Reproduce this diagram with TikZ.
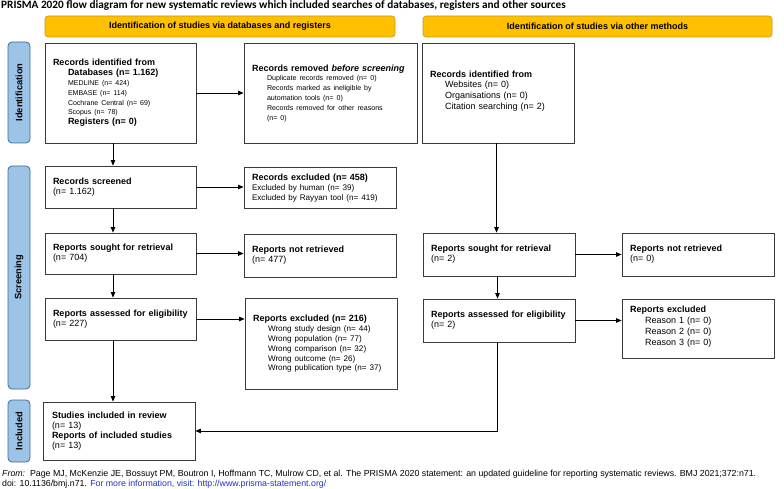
\documentclass[tikz,border=0pt]{standalone}
\usepackage{fontspec}
\setmainfont{Liberation Sans}
\newfontfamily\titlefont{Carlito}
\usepackage{xcolor}
\usetikzlibrary{positioning, arrows.meta, calc}
\definecolor{prgold}{HTML}{FFC000}
\definecolor{prgoldline}{HTML}{C89A10}
\definecolor{prblue}{HTML}{9DC3E6}
\definecolor{prblueline}{HTML}{3F6C94}
\definecolor{prline}{HTML}{3A3A3A}
\definecolor{prlink}{HTML}{2233C0}
\newcommand{\sz}[2]{{\fontsize{#1}{9.8}\selectfont #2}}
\newcommand{\ind}{\hspace*{15pt}}

\begin{document}
\begin{tikzpicture}[x=1pt, y=-1pt,
    box/.style={draw=prline, line width=0.8pt, fill=white, align=left,
                inner xsep=8pt, inner ysep=2pt, font=\fontsize{9}{9.8}\selectfont},
    phase/.style={draw=prblueline, fill=prblue, line width=0.8pt, rounded corners=4pt,
                  rotate=90, minimum height=22pt, inner sep=0pt,
                  font=\fontsize{9.3}{11}\selectfont\bfseries},
    header/.style={draw=prgoldline, fill=prgold, line width=0.6pt, rounded corners=3pt,
                   minimum height=21pt, inner sep=0pt, font=\fontsize{9}{11}\selectfont\bfseries},
    arr/.style={draw=black, line width=0.7pt, -{Triangle[length=5.5pt, width=4.5pt]}}]
  \useasboundingbox[fill=white] (0,0) rectangle (784,489);

  % title
  \node[anchor=base west, inner sep=0pt, font=\titlefont\fontsize{11.25}{12}\selectfont\bfseries] (title) at (1,8.5)
    {PRISMA 2020 flow diagram for new systematic reviews which included searches of databases, registers and other sources};

  % headers
  \node[header, minimum width=350pt] (hdb) at (220,26.5) {Identification of studies via databases and registers};
  \node[header, minimum width=349pt] (hot) at (597.5,26.5) {Identification of studies via other methods};

  % phases
  \node[phase, minimum width=101pt] (pid) at (19,92.5) {Identification};
  \node[phase, minimum width=223pt] (psc) at (19,277.5) {Screening};
  \node[phase, minimum width=62pt] (pin) at (19,431) {Included};

  % databases and registers
  \node[box, text width=135pt, minimum height=100pt] (ident) at (120.5,93)
    {\textbf{Records identified from}\\
     \ind\textbf{Databases (n= 1.162)}\\
     \ind\sz{7}{MEDLINE (n= 424)}\\
     \ind\sz{7}{EMBASE (n= 114)}\\
     \ind\sz{7}{Cochrane Central (n= 69)}\\
     \ind\sz{7}{Scopus (n= 78)}\\
     \ind\textbf{Registers (n= 0)}};
  \node[box, text width=157pt, minimum height=100pt] (removed) at (330.5,93)
    {\textbf{Records removed \textit{before screening}}\\
     \ind\sz{7.1}{Duplicate records removed (n= 0)}\\
     \ind\sz{7.1}{Records marked as ineligible by}\\
     \ind\sz{7.1}{automation tools (n= 0)}\\
     \ind\sz{7.1}{Records removed for other reasons}\\
     \ind\sz{7.1}{(n= 0)}};
  \node[box, text width=135pt, minimum height=42pt] (screened) at (120.5,187)
    {\textbf{Records screened}\\(n= 1.162)};
  \node[box, text width=136pt, minimum height=41pt] (excl) at (320,188)
    {\textbf{Records excluded (n= 458)}\\
     \sz{8.1}{Excluded by human (n= 39)}\\
     \sz{8.1}{Excluded by Rayyan tool (n= 419)}};
  \node[box, text width=135pt, minimum height=41pt] (sought) at (120.5,253.5)
    {\textbf{Reports sought for retrieval}\\(n= 704)};
  \node[box, text width=136pt, minimum height=43pt] (notret) at (320,255.5)
    {\textbf{Reports not retrieved}\\(n= 477)};
  \node[box, text width=135pt, minimum height=42pt] (assess) at (120.5,319)
    {\textbf{Reports assessed for eligibility}\\(n= 227)};
  \node[box, text width=136pt, minimum height=91pt] (repexcl) at (321,344)
    {\textbf{Reports excluded (n= 216)}\\
     \ind\sz{8.1}{Wrong study design (n= 44)}\\
     \ind\sz{8.1}{Wrong population (n= 77)}\\
     \ind\sz{8.1}{Wrong comparison (n= 32)}\\
     \ind\sz{8.1}{Wrong outcome (n= 26)}\\
     \ind\sz{8.1}{Wrong publication type (n= 37)}};
  \node[box, text width=134pt, inner xsep=9pt, minimum height=58pt] (incl) at (119,431)
    {\textbf{Studies included in review}\\(n= 13)\\
     \textbf{Reports of included studies}\\(n= 13)};

  % other methods
  \node[box, text width=136pt, minimum height=100pt, font=\fontsize{9}{10.8}\selectfont] (other) at (498,93)
    {\textbf{Records identified from}\\
     \ind Websites (n= 0)\\
     \ind Organisations (n= 0)\\
     \ind Citation searching (n= 2)\\[-5pt]\mbox{}};
  \node[box, text width=136pt, minimum height=43pt] (osought) at (499,254.5)
    {\textbf{Reports sought for retrieval}\\(n= 2)};
  \node[box, text width=136pt, minimum height=43pt] (onotret) at (698,254.5)
    {\textbf{Reports not retrieved}\\(n= 0)};
  \node[box, text width=136pt, minimum height=43pt] (oassess) at (499,320.5)
    {\textbf{Reports assessed for eligibility}\\(n= 2)};
  \node[box, text width=136pt, minimum height=59pt, font=\fontsize{9}{10.8}\selectfont] (oexcl) at (698,328.5)
    {\textbf{Reports excluded}\\
     \ind Reason 1 (n= 0)\\
     \ind Reason 2 (n= 0)\\
     \ind Reason 3 (n= 0)\\[-5pt]\mbox{}};

  % connectors
  \draw[arr] ([xshift=-7.5pt]ident.south) -- ([xshift=-7.5pt]screened.north);
  \draw[arr] ([xshift=-7.5pt]screened.south) -- ([xshift=-7.5pt]sought.north);
  \draw[arr] ([xshift=-7.5pt]sought.south) -- ([xshift=-7.5pt]assess.north);
  \draw[arr] ([xshift=-7.5pt]assess.south) -- ([xshift=-6pt]incl.north);
  \draw[arr] (ident.east) -- (removed.west);
  \draw[arr] (screened.east) -- (screened.east -| excl.west);
  \draw[arr] (sought.east) -- (sought.east -| notret.west);
  \draw[arr] (assess.east) -- (assess.east -| repexcl.west);
  \draw[arr] ([xshift=-1.5pt]other.south) -- ([xshift=-1.5pt]other.south |- osought.north);
  \draw[arr] (osought.east) -- (onotret.west);
  \draw[arr] ([xshift=-1.5pt]osought.south) -- ([xshift=-1.5pt]oassess.north);
  \draw[arr] (oassess.east) -- (oassess.east -| oexcl.west);
  \draw[arr] ([xshift=-1.5pt]oassess.south) |- (incl.east);

  % source
  \node[anchor=base west, inner sep=0pt, align=left, font=\fontsize{8.8}{9.6}\selectfont] (source) at (2,486.5)
    {\textit{From:}\ \ Page MJ, McKenzie JE, Bossuyt PM, Boutron I, Hoffmann TC, Mulrow CD, et al. The PRISMA 2020 statement: an updated guideline for reporting systematic reviews. BMJ 2021;372:n71.\\
     doi: 10.1136/bmj.n71. \textcolor{prlink}{For more information, visit: \underline{http://www.prisma-statement.org/}}};
\end{tikzpicture}
\end{document}
